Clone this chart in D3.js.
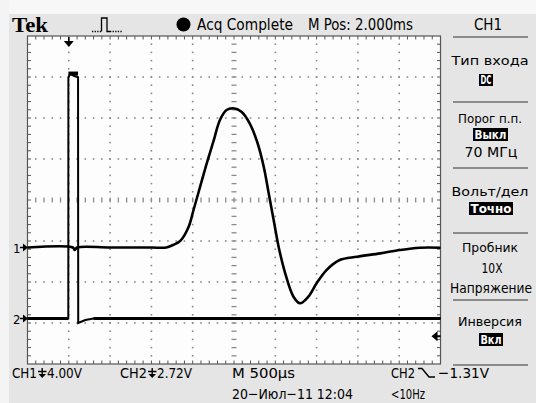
<!DOCTYPE html>
<html><head><meta charset="utf-8">
<script src="https://cdn.jsdelivr.net/npm/d3@7"></script>
<style>html,body{margin:0;padding:0;background:#fff;}svg{display:block;}</style>
</head><body>
<svg id="c" width="536" height="403"></svg>
<script>
// ---- data ----
const ch1Time = [-0.5,0.05,0.07,0.10,0.5,1.0,1.18,1.26,1.35,1.45,1.51,1.59,1.67,1.75,1.83,1.91,1.99,2.09,2.19,2.28,2.36,2.42,2.48,2.54,2.62,2.72,2.80,2.90,3.00,3.12,3.28,3.49,3.77,4.01,4.25,4.5];
const ch1Volts = [0,0,-0.25,0,0,0,0,0.24,0.65,2.0,3.66,5.93,8.21,10.32,12.44,13.41,13.58,13.25,12.12,10.32,7.88,5.29,2.68,0.08,-2.52,-4.80,-5.44,-4.80,-3.49,-2.20,-1.22,-0.90,-0.57,-0.24,-0.02,-0.02];
const ch2Time = [-0.5,-0.006,-0.005,0.02,0.06,0.112,0.114,0.2,0.3,4.5];
const ch2Volts = [0,0,16.0,16.25,16.1,16.0,-0.3,-0.1,0,0];
const timeDomain = [-0.5, 4.5];      // ms, 500us/div, trigger at 1 div
const ch1Scale = 4.00, ch2Scale = 2.72; // V/div
const triggerLevel = -1.31;
const header = {brand:"Tek", status:"Acq Complete", pos:"M Pos: 2.000ms", ch:"CH1"};
const menuTitles = ["Тип входа","Порог п.п.","Вольт/дел","Пробник","Инверсия"];
const menuValues = ["DC","Выкл","Точно","","Вкл"];
const menuExtra = ["","70 МГц","","10X\nНапряжение",""];
const bottomLabels = {ch1:"CH1", ch1v:"4.00V", ch2:"CH2", ch2v:"2.72V", time:"M 500µs", date:"20−Июл−11 12:04", trig:"CH2", trigv:"−1.31V", freq:"<10Hz"};

// ---- layout ----
const svg = d3.select("#c");
const L = 27.5, R = 440.5, T = 36, B = 364;
const divX = (R-L)/10, divY = (B-T)/8;
const x = d3.scaleLinear().domain(timeDomain).range([L, R]);
const y1 = d3.scaleLinear().domain([0, ch1Scale]).range([247.5, 247.5-divY]);
const y2 = d3.scaleLinear().domain([0, ch2Scale]).range([318.5, 318.5-divY]);
const FONT = "'Liberation Sans Narrow','DejaVu Sans Condensed','Roboto Condensed',sans-serif";

svg.append("rect").attr("width",536).attr("height",403).attr("fill","#e5e5e5");
svg.append("rect").attr("width",536).attr("height",14).attr("fill","#f7f7f7");
svg.append("rect").attr("width",9).attr("height",403).attr("fill","#f4f4f4");
svg.append("rect").attr("x",L).attr("y",T).attr("width",R-L).attr("height",B-T).attr("fill","#fdfdfd");

const g = svg.append("g");
// grid dots
const dotC = "#8a8a8a";
for (let i=1;i<10;i++){
  if(i===5) continue;
  const gx = L+i*divX;
  for(let k=1;k<40;k++){ g.append("rect").attr("x",gx-0.8).attr("y",T+k*divY/5-0.8).attr("width",1.6).attr("height",1.6).attr("fill",dotC); }
}
for (let j=1;j<8;j++){
  if(j===4) continue;
  const gy = T+j*divY;
  for(let k=1;k<50;k++){ g.append("rect").attr("x",L+k*divX/5-0.8).attr("y",gy-0.8).attr("width",1.6).attr("height",1.6).attr("fill",dotC); }
}
// center lines with ticks
const cx = L+5*divX, cy = T+4*divY;
for(let k=1;k<40;k++){ g.append("line").attr("x1",cx-2.5).attr("x2",cx+2.5).attr("y1",T+k*divY/5).attr("y2",T+k*divY/5).attr("stroke",dotC).attr("stroke-width",1.3); }
for(let k=1;k<50;k++){ g.append("line").attr("x1",L+k*divX/5).attr("x2",L+k*divX/5).attr("y1",cy-2.5).attr("y2",cy+2.5).attr("stroke",dotC).attr("stroke-width",1.3); }
// border ticks
const bc = "#555";
for(let k=1;k<50;k++){
  const tx = L+k*divX/5;
  g.append("line").attr("x1",tx).attr("x2",tx).attr("y1",T).attr("y2",T+3.5).attr("stroke",bc);
  g.append("line").attr("x1",tx).attr("x2",tx).attr("y1",B).attr("y2",B-3.5).attr("stroke",bc);
}
for(let k=1;k<40;k++){
  const ty = T+k*divY/5;
  g.append("line").attr("y1",ty).attr("y2",ty).attr("x1",L).attr("x2",L+3.5).attr("stroke",bc);
  g.append("line").attr("y1",ty).attr("y2",ty).attr("x1",R).attr("x2",R-3.5).attr("stroke",bc);
}
g.append("rect").attr("x",L).attr("y",T).attr("width",R-L).attr("height",B-T).attr("fill","none").attr("stroke",bc).attr("stroke-width",1.2);

// traces
const line1 = d3.line().x((d,i)=>x(ch1Time[i])).y(d=>y1(d)).curve(d3.curveCatmullRom.alpha(0.5));
svg.append("path").attr("d",line1(ch1Volts)).attr("fill","none").attr("stroke","#000").attr("stroke-width",2.6).attr("stroke-linejoin","round");
const line2 = d3.line().x((d,i)=>x(ch2Time[i])).y(d=>y2(d));
svg.append("path").attr("d",line2(ch2Volts)).attr("fill","none").attr("stroke","#000").attr("stroke-width",2.0);
// thicker baseline for ch2
svg.append("line").attr("x1",x(ch2Time[0])).attr("x2",x(ch2Time[1])).attr("y1",y2(0)).attr("y2",y2(0)).attr("stroke","#000").attr("stroke-width",3);
svg.append("line").attr("x1",x(ch2Time[8])).attr("x2",x(ch2Time[9])).attr("y1",y2(0)).attr("y2",y2(0)).attr("stroke","#000").attr("stroke-width",3);
svg.append("rect").attr("x",x(ch2Time[2])).attr("y",y2(ch2Volts[3])-2).attr("width",x(ch2Time[5])-x(ch2Time[2])).attr("height",4).attr("fill","#000");

// trigger position marker
const tpx = x(0);
svg.append("path").attr("d",`M${tpx-5},${T+5}L${tpx+5},${T+5}L${tpx},${T+11}Z M${tpx-0.8},${T+1}h1.6v5h-1.6Z`).attr("fill","#000");
// trigger level marker (right)
const tly = y2(triggerLevel)-2;
svg.append("path").attr("d",`M${R-9},${tly}L${R-3},${tly-5}L${R-3},${tly+5}Z M${R-4},${tly-1}h4v2h-4Z`).attr("fill","#000");
// channel ground markers
[[y1(0),"1"],[y2(0),"2"]].forEach(([yy,lab])=>{
  svg.append("text").attr("x",13).attr("y",yy+5).attr("font-family",FONT).attr("font-size",13).text(lab);
  svg.append("path").attr("d",`M${20},${yy-0.8}h4v1.6h-4Z M${23},${yy-4}L${28},${yy}L${23},${yy+4}Z`).attr("fill","#000");
});

// header
svg.append("text").attr("x",12).attr("y",31.5).attr("font-family","'Liberation Serif','Times New Roman',serif").attr("font-weight","bold").attr("font-size",21).attr("textLength",36).attr("lengthAdjust","spacingAndGlyphs").text(header.brand);
svg.append("path").attr("d","M101.5,31.5V18H107V31.5H110").attr("fill","none").attr("stroke","#000").attr("stroke-width",1.3);
svg.append("path").attr("d","M92,31.5H101 M110,31.5H122").attr("fill","none").attr("stroke","#000").attr("stroke-width",1.3).attr("stroke-dasharray","1.3,1.3");
svg.append("circle").attr("cx",183.5).attr("cy",24.5).attr("r",7).attr("fill","#000");
svg.append("text").attr("x",197).attr("y",30).attr("font-family",FONT).attr("font-size",15).attr("textLength",96).attr("lengthAdjust","spacingAndGlyphs").text(header.status);
svg.append("text").attr("x",308).attr("y",30).attr("font-family",FONT).attr("font-size",15).attr("textLength",105).attr("lengthAdjust","spacingAndGlyphs").text(header.pos);
svg.append("text").attr("x",488).attr("y",29.5).attr("text-anchor","middle").attr("font-family",FONT).attr("font-size",15).text(header.ch);

// menu
const MX = 490;
const sepY = [37, 102, 168, 233, 300, 365];
sepY.forEach(s=>svg.append("line").attr("x1",453).attr("x2",528).attr("y1",s).attr("y2",s).attr("stroke","#333").attr("stroke-width",1.2));
const titleY = [65, 123, 196, 252, 326];
const boxes = [[479,74,14,12],[473,128,35,13],[469,202,44,13],null,[479,333,24,13]];
const widths = [77,64,77,56,64];
menuTitles.forEach((t,i)=>{
  svg.append("text").attr("x",MX).attr("y",titleY[i]).attr("text-anchor","middle").attr("font-family",FONT).attr("font-size",13).attr("textLength",widths[i]).attr("lengthAdjust","spacingAndGlyphs").text(t);
  const b = boxes[i];
  if(b && menuValues[i]){
    svg.append("rect").attr("x",b[0]).attr("y",b[1]).attr("width",b[2]).attr("height",b[3]).attr("fill","#000");
    svg.append("text").attr("x",b[0]+b[2]/2).attr("y",b[1]+b[3]-2).attr("text-anchor","middle").attr("font-family",FONT).attr("font-weight","bold").attr("font-size",12.5).attr("fill","#fff").attr("textLength",b[2]-3).attr("lengthAdjust","spacingAndGlyphs").text(menuValues[i]);
  }
});
svg.append("text").attr("x",491).attr("y",157).attr("text-anchor","middle").attr("font-family",FONT).attr("font-size",13.5).attr("textLength",53).attr("lengthAdjust","spacingAndGlyphs").text(menuExtra[1]);
const ex = menuExtra[3].split("\n");
svg.append("text").attr("x",492).attr("y",273).attr("text-anchor","middle").attr("font-family",FONT).attr("font-size",13.5).attr("textLength",21).attr("lengthAdjust","spacingAndGlyphs").text(ex[0]);
svg.append("text").attr("x",491).attr("y",293).attr("text-anchor","middle").attr("font-family",FONT).attr("font-size",13.5).attr("textLength",82).attr("lengthAdjust","spacingAndGlyphs").text(ex[1]);

// bottom
function txt(s,xx,yy,w){ return svg.append("text").attr("x",xx).attr("y",yy).attr("font-family",FONT).attr("font-size",14.5).attr("textLength",w).attr("lengthAdjust","spacingAndGlyphs").text(s); }
function gnd(xx,yy){ svg.append("path").attr("d",`M${xx+4.2},${yy-10}V${yy-2} M${xx},${yy-6.5}H${xx+8.5}`).attr("stroke","#000").attr("stroke-width",1.4); svg.append("path").attr("d",`M${xx+0.5},${yy-4}L${xx+8},${yy-4}L${xx+4.2},${yy}Z`).attr("fill","#000"); }
txt(bottomLabels.ch1,12,378,25); gnd(38,378); txt(bottomLabels.ch1v,47,378,35);
txt(bottomLabels.ch2,120,378,27); gnd(148,378); txt(bottomLabels.ch2v,157,378,35);
txt(bottomLabels.time,232,378,63);
txt(bottomLabels.date,232,399,121);
txt(bottomLabels.trig,391,378,24);
svg.append("path").attr("d","M418,368.5H422L429,377H435").attr("fill","none").attr("stroke","#000").attr("stroke-width",1.4);
txt(bottomLabels.trigv,438,378,51);
txt(bottomLabels.freq,391,399,34);
</script>
</body></html>
